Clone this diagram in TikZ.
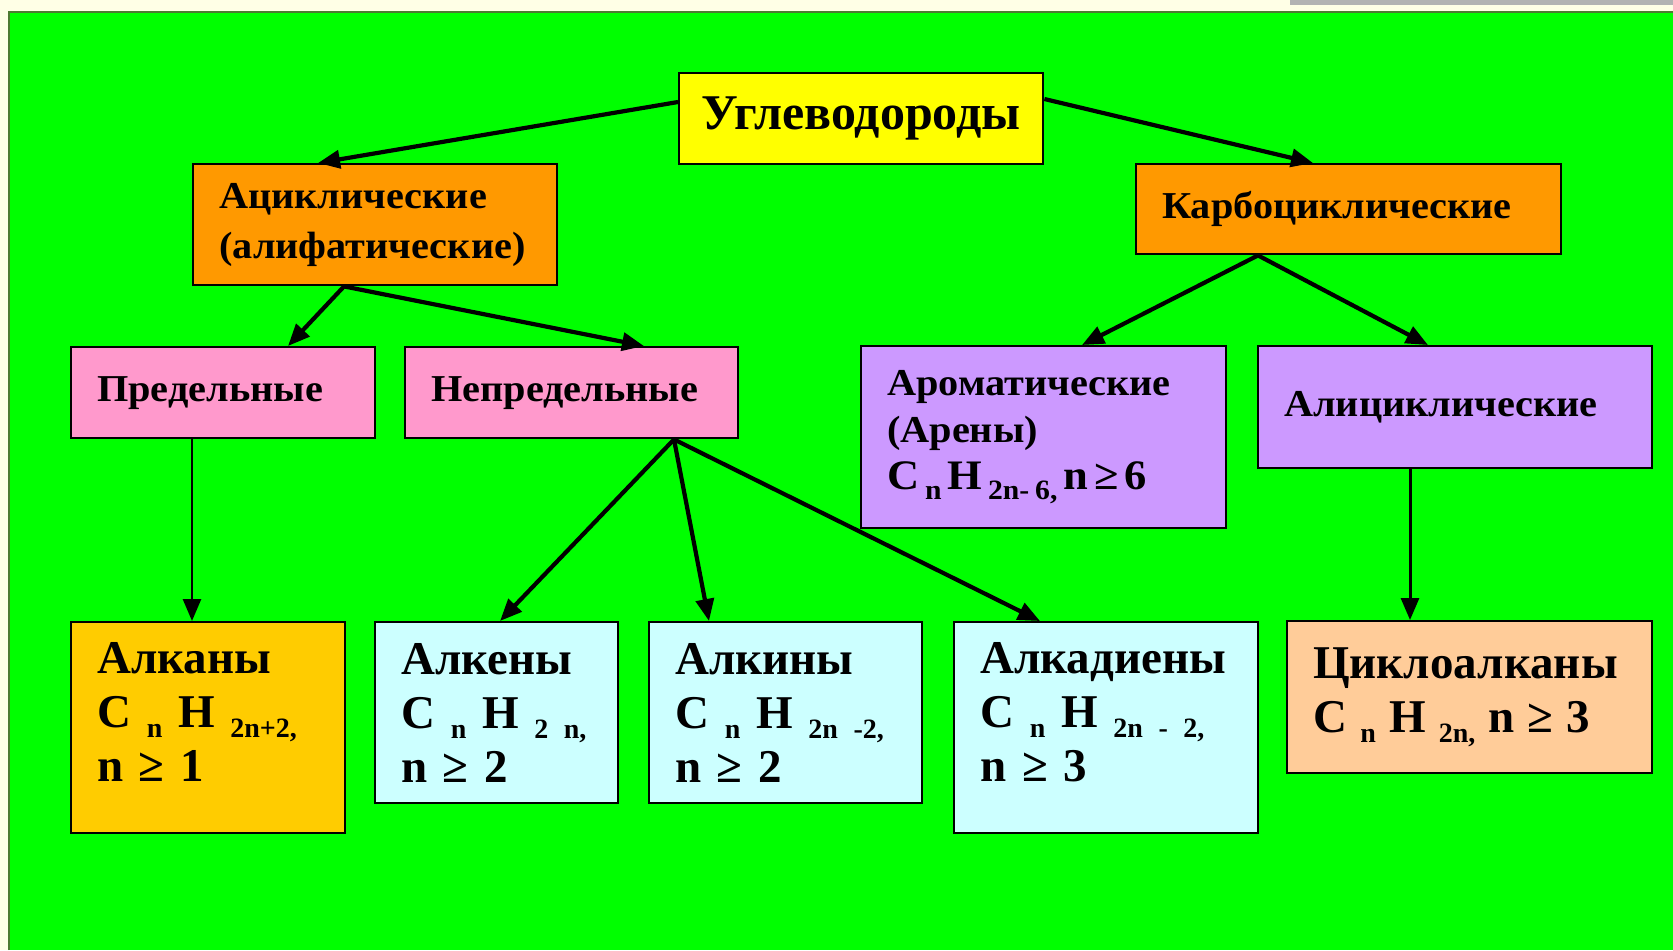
\documentclass[tikz,border=0pt]{standalone}
\usepackage{fontspec}
\setmainfont{Liberation Serif}
\newfontfamily\widefont{Liberation Serif}[FakeStretch=1.06]
\usetikzlibrary{arrows.meta,calc}

\definecolor{frame}{HTML}{FFFFE6}
\definecolor{bar}{HTML}{B3B3B3}
\definecolor{field}{HTML}{00FF00}
\definecolor{fieldline}{HTML}{4E7A32}
\definecolor{rootcol}{HTML}{FFFF00}
\definecolor{classcol}{HTML}{FF9900}
\definecolor{pinkcol}{HTML}{FF99CC}
\definecolor{lilaccol}{HTML}{CC99FF}
\definecolor{alkanecol}{HTML}{FFCC00}
\definecolor{unsatcol}{HTML}{CCFFFF}
\definecolor{cyclocol}{HTML}{FFCC99}

% lowered index as on the slide
\newcommand{\lo}[1]{\raisebox{-0.22em}{\fontsize{14}{14}\selectfont #1}}

\tikzset{
  box/.style={draw=black, line width=1.2pt, anchor=north west, align=left,
    inner xsep=13pt, inner ysep=0pt},
  small/.style={font=\widefont\bfseries\fontsize{19}{23.5}\selectfont},
  big/.style={font=\bfseries\fontsize{23.5}{27}\selectfont},
  arr/.style={-{Triangle[length=11pt,width=9pt]}, line width=2.1pt},
}

\begin{document}
\begin{tikzpicture}[x=0.5pt,y=-0.5pt]
  \useasboundingbox (0,0) rectangle (1673,950);
  \fill[frame] (0,0) rectangle (1673,950);
  \fill[bar] (1290,0) rectangle (1673,5);
  \fill[field] (9,12) rectangle (1673,950);
  \draw[fieldline, line width=1pt] (9,950) -- (9,12) -- (1673,12);

  % top
  \node[box, fill=rootcol, align=center, inner xsep=5pt, text width=172pt,
    minimum height=45.5pt, font=\bfseries\fontsize{25}{29}\selectfont]
    (root) at (678,72) {Углеводороды};
  \node[box, fill=classcol, text width=156pt, minimum height=60.5pt,
    font=\widefont\bfseries\fontsize{19}{25}\selectfont]
    (acyc) at (192,163) {Ациклические\\(алифатические)};
  \node[box, small, fill=classcol, text width=186.5pt, minimum height=45pt]
    (karbo) at (1135,163) {Карбоциклические};

  % middle row
  \node[box, small, fill=pinkcol, text width=126pt, minimum height=45.5pt]
    (pred) at (70,346) {Предельные};
  \node[box, small, fill=pinkcol, text width=140.5pt, minimum height=45.5pt]
    (nepred) at (404,346) {Непредельные};
  \node[box, small, fill=lilaccol, text width=156.5pt, minimum height=91pt]
    (arom) at (860,345) {Ароматические\\(Арены)\\{\fontsize{21}{23.5}\selectfont
    \mbox{\spaceskip=0.14em\relax C \lo{n} H \lo{2n- 6,} n ≥ 6}}};
  \node[box, small, fill=lilaccol, text width=171pt, minimum height=61pt]
    (alic) at (1257,345) {Алициклические};

  % bottom row
  \node[box, big, fill=alkanecol, text width=111pt, minimum height=105.5pt]
    (alkany) at (70,621) {Алканы\\\mbox{C \lo{n} H \lo{2n+2,}}\\n ≥ 1\\[-11pt]\mbox{}};
  \node[box, big, fill=unsatcol, text width=95.5pt, minimum height=90.5pt]
    (alkeny) at (374,621) {Алкены\\\mbox{C \lo{n} H \lo{2 n,}}\\n ≥ 2};
  \node[box, big, fill=unsatcol, text width=110.5pt, minimum height=90.5pt]
    (alkiny) at (648,621) {Алкины\\\mbox{C \lo{n} H \lo{2n -2,}}\\n ≥ 2};
  \node[box, big, fill=unsatcol, text width=126pt, minimum height=105.5pt]
    (alkadien) at (953,621) {Алкадиены\\\mbox{C \lo{n} H \lo{2n - 2,}}\\n ≥ 3\\[-11pt]\mbox{}};
  \node[box, big, fill=cyclocol, text width=156.5pt, minimum height=76pt]
    (cyclo) at (1286,620) {Циклоалканы\\\mbox{\spaceskip=0.28em\relax C \lo{n} H \lo{2n,} n ≥ 3}};

  % arrows
  \draw[arr] ($(root.north west)+(0,30)$) -- ($(acyc.north west)+(126,0)$);
  \draw[arr] ($(root.north east)+(0,27)$) -- ($(karbo.north west)+(178,0)$);
  \draw[arr] ($(acyc.south west)+(152,0)$) -- ($(pred.north west)+(218,0)$);
  \draw[arr] ($(acyc.south west)+(152,0)$) -- ($(nepred.north west)+(240,0)$);
  \draw[arr] ($(karbo.south west)+(123,0)$) -- ($(arom.north west)+(222,0)$);
  \draw[arr] ($(karbo.south west)+(123,0)$) -- ($(alic.north west)+(171,0)$);
  \draw[arr, line width=1.3pt] ($(pred.south west)+(122,0)$) -- ($(alkany.north west)+(122,0)$);
  \draw[arr] ($(nepred.south west)+(270,0)$) -- ($(alkeny.north west)+(126,0)$);
  \draw[arr] ($(nepred.south west)+(270,0)$) -- ($(alkiny.north west)+(61,0)$);
  \draw[arr] ($(nepred.south west)+(270,0)$) -- ($(alkadien.north west)+(87,0)$);
  \draw[arr, line width=1.5pt] ($(alic.south west)+(153,0)$) -- ($(cyclo.north west)+(124,0)$);
\end{tikzpicture}
\end{document}
